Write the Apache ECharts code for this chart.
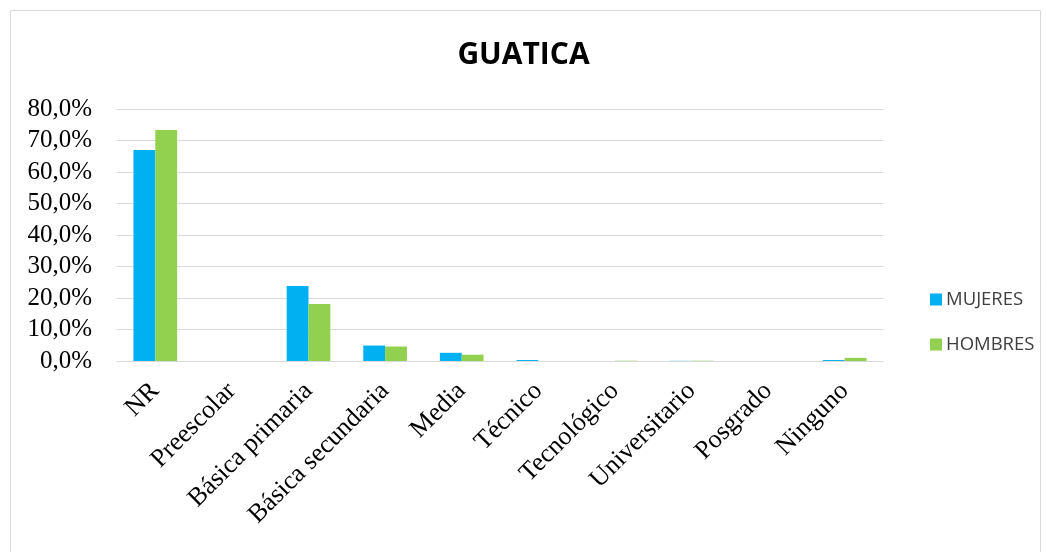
<!DOCTYPE html>
<html><head><meta charset="utf-8">
<script src="https://cdn.jsdelivr.net/npm/echarts@6/dist/echarts.min.js"></script>
<style>html,body{margin:0;padding:0;background:#fff;}#c{width:1047px;height:552px;}</style>
</head><body><div id="c"></div>
<script>
const categories = ['NR','Preescolar','Básica primaria','Básica secundaria','Media','Técnico','Tecnológico','Universitario','Posgrado','Ninguno'];
const mujeres = [0.670, 0, 0.238, 0.049, 0.026, 0.003, 0.0, 0.0005, 0, 0.003];
const hombres = [0.733, 0, 0.181, 0.046, 0.020, 0.0, 0.001, 0.001, 0, 0.010];
const yTicks = {min: 0, max: 0.8, interval: 0.1};

const chart = echarts.init(document.getElementById('c'));
chart.setOption({
  animation: false,
  title: {text: 'GUATICA', left: 'center', top: 35,
    textStyle: {fontFamily: 'Open Sans', fontWeight: 'bold', fontSize: 30, color: '#000'}},
  graphic: [{type: 'rect', shape: {x: 10.5, y: 10.5, width: 1030, height: 560}, style: {fill: 'none', stroke: '#d9d9d9', lineWidth: 1}, silent: true}],
  legend: {orient: 'vertical', left: 925, top: 285, itemGap: 26, itemWidth: 12, itemHeight: 12,
    icon: 'rect', textStyle: {fontFamily: 'Open Sans', fontSize: 18.5, color: '#404040', padding: [0,0,0,-1]}},
  grid: {left: 117, right: 164, top: 109, bottom: 191, containLabel: false},
  xAxis: {type: 'category', data: categories,
    axisLine: {lineStyle: {color: '#d9d9d9', width: 1}}, axisTick: {show: false},
    axisLabel: {rotate: 45, interval: 0, fontFamily: 'Liberation Serif', fontSize: 26, color: '#000', margin: 26}},
  yAxis: {type: 'value', min: yTicks.min, max: yTicks.max, interval: yTicks.interval,
    axisLine: {show: false}, axisTick: {show: false},
    splitLine: {lineStyle: {color: '#d9d9d9', width: 1}},
    axisLabel: {fontFamily: 'Liberation Serif', fontSize: 25, color: '#000', margin: 25,
      formatter: v => (v*100).toFixed(1).replace('.', ',') + '%'}},
  series: [
    {name: 'MUJERES', type: 'bar', data: mujeres, barGap: '0%', barCategoryGap: '43%', itemStyle: {color: '#00b0f0'}},
    {name: 'HOMBRES', type: 'bar', data: hombres, itemStyle: {color: '#92d050'}}
  ]
});
</script></body></html>
